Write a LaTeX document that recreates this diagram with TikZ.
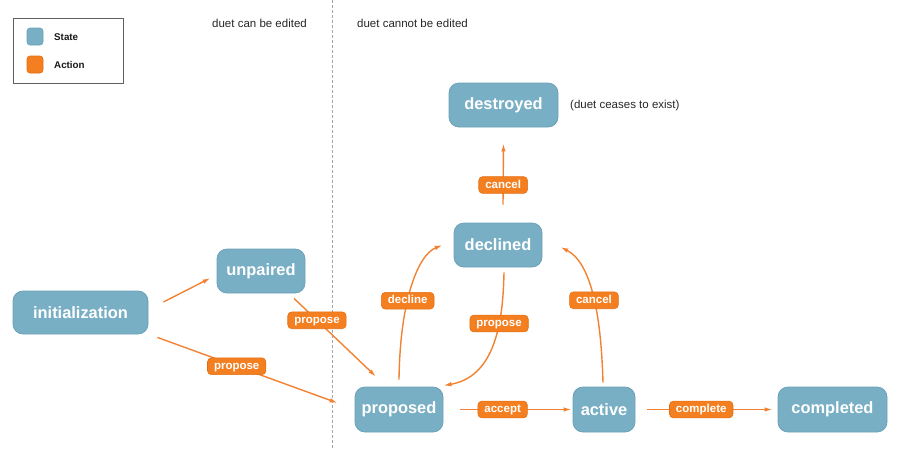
\documentclass[tikz,border=0pt]{standalone}
\usepackage{fontspec}
\setmainfont{Liberation Sans}
\usetikzlibrary{arrows.meta,calc}
\definecolor{stfill}{HTML}{79AFC5}
\definecolor{stdraw}{HTML}{6CA2B8}
\definecolor{acfill}{HTML}{F47F20}
\definecolor{acdraw}{HTML}{E36E12}
\definecolor{arr}{HTML}{F28232}
\begin{document}
\begin{tikzpicture}[x=1pt,y=-1pt,
  statebox/.style={draw=stdraw, line width=0.8pt, fill=stfill, rounded corners=10pt, inner sep=0pt, text=white, font=\fontsize{16.4}{18}\selectfont\bfseries},
  actbox/.style={draw=acdraw, line width=0.6pt, fill=acfill, rounded corners=4pt, inner xsep=6.5pt, inner ysep=3pt, text height=8.4pt, text depth=2.4pt, text=white, font=\fontsize{11.5}{12}\selectfont\bfseries},
  flow/.style={draw=arr, line width=1.4pt, -{Latex[length=8pt,width=4.5pt]}},
  note/.style={font=\fontsize{11.5}{13}\selectfont, text=black!85, inner sep=0pt},
  legtext/.style={font=\fontsize{9.8}{11}\selectfont\bfseries, text=black!90, inner sep=0pt, anchor=west}
]
\useasboundingbox (0,0) rectangle (900,448);

% divider
\coordinate (dtop) at (332,0);
\coordinate (dbot) at (332,448);
\draw[gray!70, line width=0.8pt, dash pattern=on 3pt off 2pt] (dtop) -- (dbot);

% legend
\node[draw=gray!75!black, line width=0.7pt, fill=white, minimum width=110pt, minimum height=65pt, inner sep=0pt] (legend) at (68,50.5) {};
\node[fill=stfill, draw=stdraw, line width=0.6pt, rounded corners=3pt, minimum width=16pt, minimum height=17pt, inner sep=0pt] (swS) at (35,36.5) {};
\node[legtext] (tS) at (54,37.5) {State};
\node[fill=acfill, draw=acdraw, line width=0.6pt, rounded corners=3pt, minimum width=16pt, minimum height=17pt, inner sep=0pt] (swA) at (35,64.5) {};
\node[legtext] (tA) at (54,65) {Action};

% notes
\node[note, anchor=west] (n1) at (212,23.5) {duet can be edited};
\node[note, anchor=west] (n2) at (357,23.5) {duet cannot be edited};
\node[note, anchor=west] (n3) at (570,106) {(duet ceases to exist)};

% states
\node[statebox, minimum width=135pt, minimum height=43pt] (init) at (80.5,312.5) {initialization};
\node[statebox, minimum width=88pt, minimum height=44pt] (unpaired) at (261,271) {unpaired};
\node[statebox, minimum width=88pt, minimum height=45pt] (proposed) at (399,409.5) {proposed};
\node[statebox, minimum width=62pt, minimum height=45pt] (active) at (604,409.5) {active};
\node[statebox, minimum width=109pt, minimum height=45pt] (completed) at (832.5,409.5) {completed};
\node[statebox, minimum width=88pt, minimum height=44pt] (declined) at (498,245) {declined};
\node[statebox, minimum width=109pt, minimum height=44pt] (destroyed) at (503.5,105) {destroyed};

% transitions
\draw[flow] ($(init.east)+(15,-10.5)$) -- ($(unpaired.west)+(-6,7)$);
\draw[flow] ($(init.south east)+(9,3)$) -- ($(proposed.west)+(-17,-6.5)$)
  node[actbox, pos=0.44] (l1) {propose};
\draw[flow] ($(unpaired.south)+(33,5)$) -- ($(proposed.north)+(-23,-10)$)
  node[actbox, pos=0.28] (l2) {propose};
\draw[flow] ($(proposed.north)+(0,-7)$) .. controls (400,300) and (418,255) .. ($(declined.west)+(-11,0)$)
  node[actbox, pos=0.4] (l3) {decline};
\draw[flow] ($(declined.south)+(6,5)$) .. controls (503,330) and (492,377) .. ($(proposed.north east)+(0,-1)$)
  node[actbox, pos=0.32] (l4) {propose};
\draw[flow] ($(active.north)+(-1,-4)$) .. controls (601,310) and (590,262) .. ($(declined.east)+(18,2)$)
  node[actbox, pos=0.45] (l5) {cancel};
\draw[flow] ($(declined.north)+(5,-18)$) -- ($(destroyed.south)+(0,16)$)
  node[actbox, pos=0.32] (l6) {cancel};
\draw[flow] ($(proposed.east)+(17,0)$) -- ($(active.west)+(-1,0)$)
  node[actbox, pos=0.38] (l7) {accept};
\draw[flow] ($(active.east)+(12,0)$) -- ($(completed.west)+(-5,0)$)
  node[actbox, pos=0.43] (l8) {complete};
\end{tikzpicture}
\end{document}
